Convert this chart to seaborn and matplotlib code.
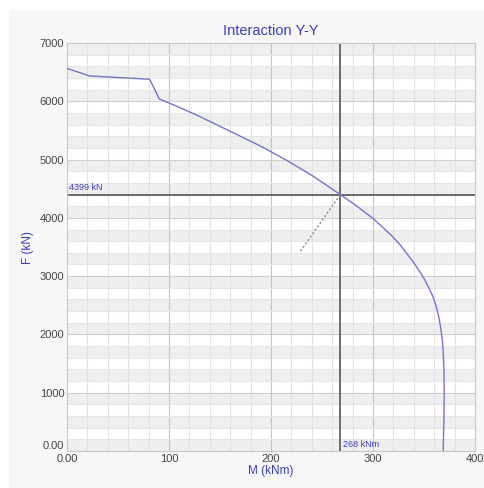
import numpy as np
import pandas as pd
import seaborn as sns
import matplotlib.pyplot as plt
from matplotlib.patches import Rectangle

# Interaction curve
moment = [0, 22, 81, 90.5, 107, 130, 160, 190, 215, 240, 268, 285, 300, 310, 318,
          326, 333, 340, 345, 350, 355, 359, 362, 364.5, 366.5, 368, 369, 369.6,
          369.8, 369.6, 369.2, 368.8]
force = [6565, 6435, 6378, 6040, 5920, 5740, 5485, 5230, 4990, 4730, 4399,
         4190, 3990, 3830, 3700, 3550, 3390, 3230, 3100, 2960, 2790, 2640, 2480,
         2300, 2100, 1900, 1650, 1350, 1000, 600, 300, 0]

design_m = 268
design_f = 4399
load_m = [229, 268]
load_f = [3430, 4399]

x_ticks = [0, 100, 200, 300, 400]
x_labels = ["0.00", "100", "200", "300", "400"]
y_ticks = [0, 1000, 2000, 3000, 4000, 5000, 6000, 7000]
y_labels = ["0.00"] + [str(v) for v in y_ticks[1:]]

blue = "#3c3cc4"
curve = "#7474cc"

sns.set_theme(style="white")
plt.rcParams['font.family'] = ['Liberation Sans', 'DejaVu Sans']

fig = plt.figure(figsize=(4.84, 4.88), dpi=100, facecolor="white")
fig.patches.append(Rectangle((9 / 484, 0), 1, 1 - 10 / 488, transform=fig.transFigure,
                             facecolor="#f7f7f7", edgecolor="none", zorder=-10))
ax = fig.add_axes([67 / 484, 37 / 488, 408 / 484, 408 / 488])
ax.set_facecolor("white")

# alternating bands
for lo in range(0, 7000, 400):
    ax.axhspan(lo, lo + 200, color="#efefef", lw=0, zorder=0)

for xv in np.arange(20, 400, 20):
    ax.axvline(xv, color="#c4c4c4" if xv % 100 == 0 else "#e2e2e2", lw=0.8, zorder=1)
for yv in np.arange(200, 7000, 200):
    ax.axhline(yv, color="#d0d0d0" if yv % 1000 == 0 else "#e6e6e6", lw=0.8, zorder=1)

df = pd.DataFrame({"M": moment, "F": force})
sns.lineplot(data=df, x="M", y="F", sort=False, estimator=None, color=curve, lw=1.0,
             ax=ax, zorder=3)
sns.lineplot(x=load_m, y=load_f, estimator=None, color="#8a8a8a", lw=1.0,
             ls=(0, (1.5, 1.5)), ax=ax, zorder=3)

ax.axvline(design_m, color="#555555", lw=1.2, zorder=2)
ax.axhline(design_f, color="#555555", lw=1.2, zorder=2)
ax.text(2, design_f + 40, f"{design_f} kN", color=blue, fontsize=6.5, va="bottom", ha="left")
ax.text(design_m + 3, 40, f"{design_m} kNm", color=blue, fontsize=6.5, va="bottom", ha="left")

ax.set_xlim(0, 400)
ax.set_ylim(0, 7000)
ax.set_xticks(x_ticks, x_labels)
ax.set_yticks(y_ticks, y_labels)
ax.tick_params(length=0, labelsize=8, labelcolor="#444444", pad=2)
ax.get_yticklabels()[0].set_va("bottom")
for s in ax.spines.values():
    s.set_color("#c8c8c8")
    s.set_linewidth(0.8)

ax.set_title("Interaction Y-Y", color=blue, fontsize=10.5, pad=6)
ax.set_xlabel("M (kNm)", color=blue, fontsize=8.5, labelpad=1)
ax.set_ylabel("F (kN)", color=blue, fontsize=8.5, labelpad=4)

fig.savefig("out.png", dpi=100)
